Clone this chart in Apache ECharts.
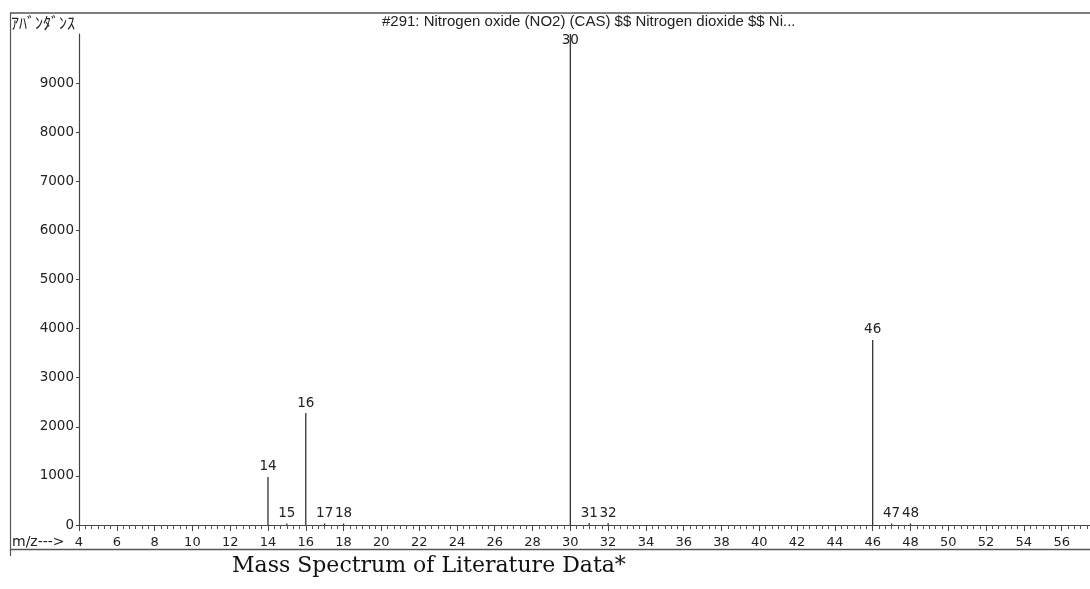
<!DOCTYPE html>
<html>
<head>
<meta charset="utf-8">
<script src="https://cdn.jsdelivr.net/npm/echarts@6/dist/echarts.min.js"></script>
<style>
html,body{margin:0;padding:0;background:#fff;}
#chart{width:1090px;height:589px;}
</style>
</head>
<body>
<div id="chart"></div>
<script>
// m/z values of the peaks and their abundances
const mz = [14, 15, 16, 17, 18, 30, 31, 32, 46, 47, 48];
const abundance = [980, 30, 2280, 30, 30, 9999, 40, 40, 3770, 30, 30];
const xTicks = [4, 6, 8, 10, 12, 14, 16, 18, 20, 22, 24, 26, 28, 30, 32, 34, 36, 38, 40, 42, 44, 46, 48, 50, 52, 54, 56];
const yTicks = [0, 1000, 2000, 3000, 4000, 5000, 6000, 7000, 8000, 9000];
const headerText = '#291: Nitrogen oxide (NO2) (CAS) $$ Nitrogen dioxide $$ Ni...';
const yName = 'ｱﾊﾞﾝﾀﾞﾝｽ';
const xName = 'm/z--->';
const caption = 'Mass Spectrum of Literature Data*';

const chart = echarts.init(document.getElementById('chart'), null, {renderer: 'canvas'});
const ink = '#222';
const lineCol = '#444';
const font = '"Liberation Sans", Arial, sans-serif';
const numFont = '"DejaVu Sans", sans-serif';

const data = mz.map((m, i) => {
  const item = {value: [m, abundance[i]]};
  if (m === 30) item.label = {offset: [0, 16]};
  return item;
});

chart.setOption({
  animation: false,
  backgroundColor: '#fff',
  grid: {left: 79, right: 0, top: 34, bottom: 64, containLabel: false},
  xAxis: {
    type: 'value',
    min: xTicks[0],
    max: 57.5,
    interval: 2,
    axisLine: {show: true, lineStyle: {color: lineCol, width: 1.2}},
    axisTick: {show: true, length: 6, lineStyle: {color: lineCol}},
    minorTick: {show: true, splitNumber: 6, length: 4, lineStyle: {color: '#555'}},
    splitLine: {show: false},
    axisLabel: {
      color: ink, fontFamily: numFont, fontSize: 13, margin: 11,
      showMaxLabel: false,
      formatter: v => xTicks.includes(v) ? String(v) : ''
    }
  },
  yAxis: {
    type: 'value',
    min: 0,
    max: 10000,
    interval: 1000,
    axisLine: {show: true, lineStyle: {color: lineCol, width: 1.2}},
    axisTick: {show: true, length: 3, lineStyle: {color: lineCol}},
    splitLine: {show: false},
    axisLabel: {
      color: ink, fontFamily: numFont, fontSize: 13.5, margin: 5,
      showMaxLabel: false,
      formatter: v => yTicks.includes(v) ? String(v) : ''
    }
  },
  series: [{
    type: 'bar',
    data: data,
    barWidth: 1.3,
    itemStyle: {color: '#333'},
    label: {
      show: true,
      position: 'top',
      distance: 3,
      color: ink,
      fontFamily: numFont,
      fontSize: 13.5,
      formatter: p => String(p.value[0])
    }
  }],
  graphic: [
    {type: 'line', shape: {x1: 10, y1: 13, x2: 1090, y2: 13}, style: {stroke: '#555', lineWidth: 1.5}},
    {type: 'line', shape: {x1: 10.5, y1: 13, x2: 10.5, y2: 556}, style: {stroke: '#555', lineWidth: 1.2}},
    {type: 'line', shape: {x1: 10, y1: 549.5, x2: 1090, y2: 549.5}, style: {stroke: '#555', lineWidth: 1.5}},
    {type: 'text', left: 11, top: 15, style: {text: yName, fill: ink, font: '16px "Noto Sans CJK JP", sans-serif'}},
    {type: 'text', left: 382, top: 14, style: {text: headerText, fill: ink, font: '15px ' + font}},
    {type: 'text', left: 12, top: 535, style: {text: xName, fill: ink, font: '14px ' + numFont}},
    {type: 'text', left: 232, top: 555, style: {text: caption, fill: '#111', font: '22px "DejaVu Serif", "Liberation Serif", serif'}}
  ]
});
</script>
</body>
</html>
